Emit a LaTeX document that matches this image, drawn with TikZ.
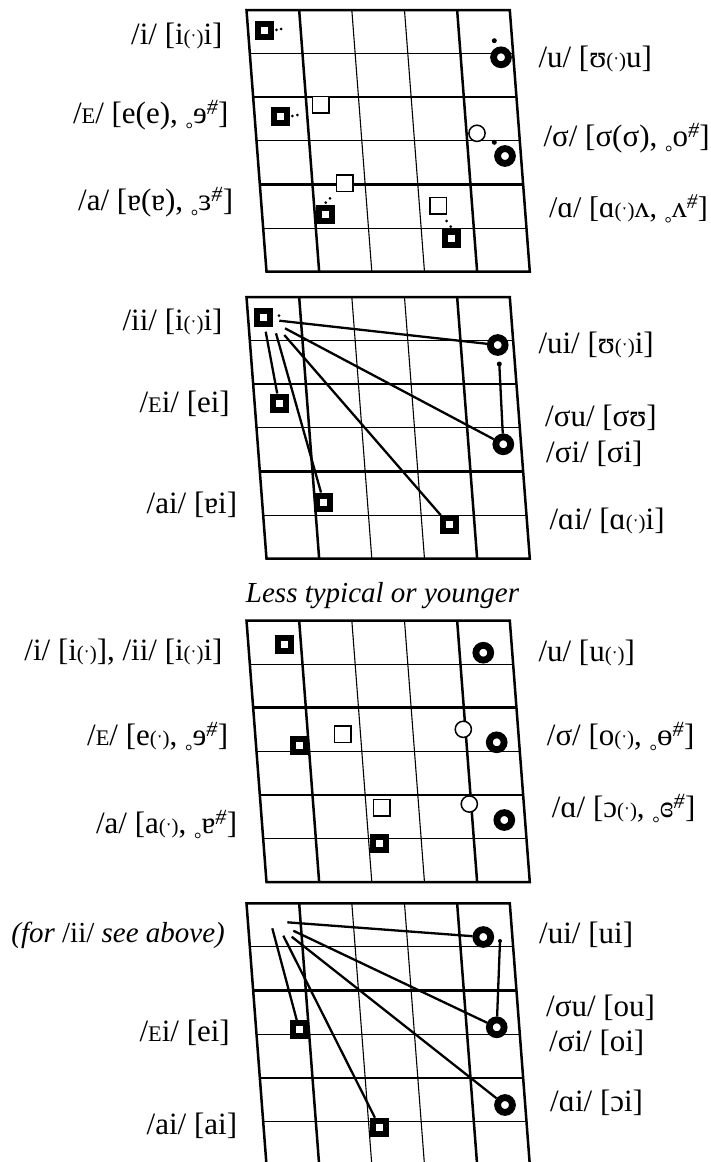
\documentclass[tikz,border=0pt]{standalone}
\usepackage{fontspec}
\setmainfont{Liberation Serif}
\usepackage{graphicx}
\newcommand\hl{{\fontsize{21}{21}\selectfont(ˑ)}}
\newcommand\sce{\scalebox{0.72}{E}}
\newcommand\rng{\raisebox{-0.4em}{\scalebox{0.6}{°}}}
\newcommand\sh{\textsuperscript{\itshape\#}}
\newcommand\vgrid[1]{%
  \foreach \i in {1,3,5} \draw[thinl] (246.5+20*\i/6, #1+261.7*\i/6) -- ++(263.3,0);
  \foreach \j in {2,3} \draw[thinl] (246.5+263.3*\j/5, #1) -- ++(20,261.7);
  \foreach \i in {2,4} \draw[thickl] (246.5+20*\i/6, #1+261.7*\i/6) -- ++(263.3,0);
  \foreach \j in {1,4} \draw[thickl] (246.5+263.3*\j/5, #1) -- ++(20,261.7);
  \draw[thickl] (246.5,#1) -- ++(263.3,0) -- ++(20,261.7) -- ++(-263.3,0) -- cycle;
}
\tikzset{
  thinl/.style={line width=1.1pt},
  thickl/.style={line width=2.5pt, line join=miter},
  thsq/.style={rectangle, draw, fill=white, line width=6pt, minimum size=13pt, inner sep=0pt},
  ring/.style={circle, draw, fill=white, line width=6.8pt, minimum size=14.8pt, inner sep=0pt},
  opsq/.style={rectangle, draw, fill=white, line width=1.5pt, minimum size=16.5pt, inner sep=0pt},
  opci/.style={circle, draw, fill=white, line width=1.5pt, minimum size=16.2pt, inner sep=0pt},
  gdot/.style={circle, fill, inner sep=0pt, minimum size=3pt},
  bdot/.style={circle, fill, inner sep=0pt, minimum size=5pt},
  conn/.style={line width=2.3pt},
  lab/.style={inner sep=0pt, font=\fontsize{31}{36}\selectfont},
  llab/.style={lab, anchor=east},
  rlab/.style={lab, anchor=west},
}
\begin{document}
\begin{tikzpicture}[x=1pt, y=-1pt]
\useasboundingbox (0,0) rectangle (710,1162);
\fill[white] (0,0) rectangle (710,1162);

% ---------- grid 1 ----------
\vgrid{10}
\node[opsq] (g1c) at (320.8,104.8) {};
\node[opsq] (g1g) at (344.8,183.2) {};
\node[opsq] (g1i) at (438.2,205.8) {};
\node[opci] (g1e) at (477,133.3) {};
\node[thsq] (g1a) at (264.7,30.3) {};
\node[thsq] (g1d) at (280.7,116.2) {};
\node[thsq] (g1h) at (325.3,214.7) {};
\node[thsq] (g1j) at (451.2,238) {};
\node[ring] (g1b) at (501,57.3) {};
\node[ring] (g1f) at (505,156) {};
\node[gdot] (g1a1) at (276.5,29.8) {};
\node[gdot] (g1a2) at (281,29) {};
\node[gdot] (g1d1) at (292.3,116) {};
\node[gdot] (g1d2) at (297.3,115) {};
\node[gdot] (g1h1) at (325.7,202.7) {};
\node[gdot] (g1h2) at (330,198.3) {};
\node[gdot] (g1j1) at (450.7,226.7) {};
\node[gdot] (g1j2) at (446.7,221) {};
\node[bdot] (g1b1) at (494.3,40.7) {};
\node[bdot] (g1f1) at (494.3,142.3) {};

\node[llab] (l1a) at (222.7,36) {/i/ [i\hl i]};
\node[llab] (l1b) at (228.7,118) {/\sce/ [e(e), \rng ɘ\sh]};
\node[llab] (l1c) at (233.3,205) {/a/ [ɐ(ɐ), \rng ɜ\sh]};
\node[rlab] (r1a) at (538.3,59) {/u/ [ʊ\hl u]};
\node[rlab] (r1b) at (543.3,141) {/σ/ [σ(σ), \rng o\sh]};
\node[rlab, font=\fontsize{30}{35}\selectfont] (r1c) at (549,212) {/ɑ/ [ɑ\hl ʌ, \rng ʌ\sh]};

% ---------- grid 2 ----------
\vgrid{297}
\node[thsq] (g2k) at (263,317.8) {};
\node[thsq] (g2p) at (279,403) {};
\node[thsq] (g2o) at (323.7,502) {};
\node[thsq] (g2n) at (449,524.7) {};
\node[ring] (g2l) at (497.7,345) {};
\node[ring] (g2m) at (503.3,444.3) {};
\node[gdot] (g2k1) at (279,315.7) {};
\node[bdot] (g2d) at (499.3,364) {};
\coordinate (s21) at (279.3,320.7);
\coordinate (s22) at (285,328.3);
\coordinate (s23) at (284.3,335);
\coordinate (s24) at (276,333.3);
\coordinate (s25) at (265.7,331.7);
\draw[conn] (s21) -- (g2l);
\draw[conn] (s22) -- (g2m);
\draw[conn] (s23) -- (g2n);
\draw[conn] (s24) -- (g2o);
\draw[conn] (s25) -- (g2p);
\draw[conn] (g2d.center) -- (g2m);

\node[llab] (l2a) at (222.7,322) {/ii/ [i\hl i]};
\node[llab] (l2b) at (230,404) {/\sce i/ [ei]};
\node[llab] (l2c) at (237.3,505) {/ai/ [ɐi]};
\node[rlab] (r2a) at (538.3,345) {/ui/ [ʊ\hl i]};
\node[rlab] (r2b) at (545,418) {/σu/ [σʊ]};
\node[rlab] (r2c) at (546,454) {/σi/ [σi]};
\node[rlab] (r2d) at (549.3,521) {/ɑi/ [ɑ\hl i]};

\node[inner sep=0pt, anchor=base, font=\fontsize{29}{34}\selectfont\itshape] (mid) at (382.5,602) {Less typical or younger};

% ---------- grid 3 ----------
\vgrid{620.5}
\node[opsq] (g3c) at (342.8,734.2) {};
\node[opsq] (g3g) at (381.7,807.5) {};
\node[opci] (g3e) at (463.3,729.3) {};
\node[opci] (g3i) at (469.3,804) {};
\node[thsq] (g3a) at (284,644.7) {};
\node[thsq] (g3d) at (299.3,745.5) {};
\node[thsq] (g3h) at (379.7,843) {};
\node[ring] (g3b) at (483.3,652.7) {};
\node[ring] (g3f) at (496.7,742.3) {};
\node[ring] (g3j) at (504.3,820) {};

\node[llab] (l3a) at (222.7,652) {/i/ [i\hl], /ii/ [i\hl i]};
\node[llab] (l3b) at (228.3,740) {/\sce/ [e\hl, \rng ɘ\sh]};
\node[llab] (l3c) at (237.3,828) {/a/ [a\hl, \rng ɐ\sh]};
\node[rlab] (r3a) at (538.3,653) {/u/ [u\hl]};
\node[rlab] (r3b) at (546.7,740) {/σ/ [o\hl, \rng ɵ\sh]};
\node[rlab] (r3c) at (551.7,812) {/ɑ/ [ɔ\hl, \rng ɞ\sh]};

% ---------- grid 4 ----------
\vgrid{903.3}
\node[thsq] (g4u) at (299.3,1029.7) {};
\node[thsq] (g4t) at (379.7,1127.2) {};
\node[ring] (g4q) at (483.3,937) {};
\node[ring] (g4r) at (496.7,1027.3) {};
\node[ring] (g4s) at (505,1105) {};
\node[gdot, minimum size=4pt] (g4d) at (500,941) {};
\coordinate (s41) at (287.3,922.3);
\coordinate (s42) at (293.3,930.7);
\coordinate (s43) at (291.7,936.7);
\coordinate (s44) at (283.3,935.7);
\coordinate (s45) at (272.3,928.3);
\draw[conn] (s41) -- (g4q);
\draw[conn] (s42) -- (g4r);
\draw[conn] (s43) -- (g4s);
\draw[conn] (s44) -- (g4t);
\draw[conn] (s45) -- (g4u);
\draw[conn] (g4d.center) -- (g4r);

\node[inner sep=0pt, anchor=east, font=\fontsize{29}{34}\selectfont\itshape] (l4a) at (225,935) {(for \upshape/ii/\itshape\ see above)};
\node[llab] (l4b) at (230,1033) {/\sce i/ [ei]};
\node[llab] (l4c) at (237.3,1126) {/ai/ [ai]};
\node[rlab] (r4a) at (539,935) {/ui/ [ui]};
\node[rlab] (r4b) at (546,1008) {/σu/ [ou]};
\node[rlab] (r4c) at (549,1043) {/σi/ [oi]};
\node[rlab] (r4d) at (550,1103) {/ɑi/ [ɔi]};
\end{tikzpicture}
\end{document}
